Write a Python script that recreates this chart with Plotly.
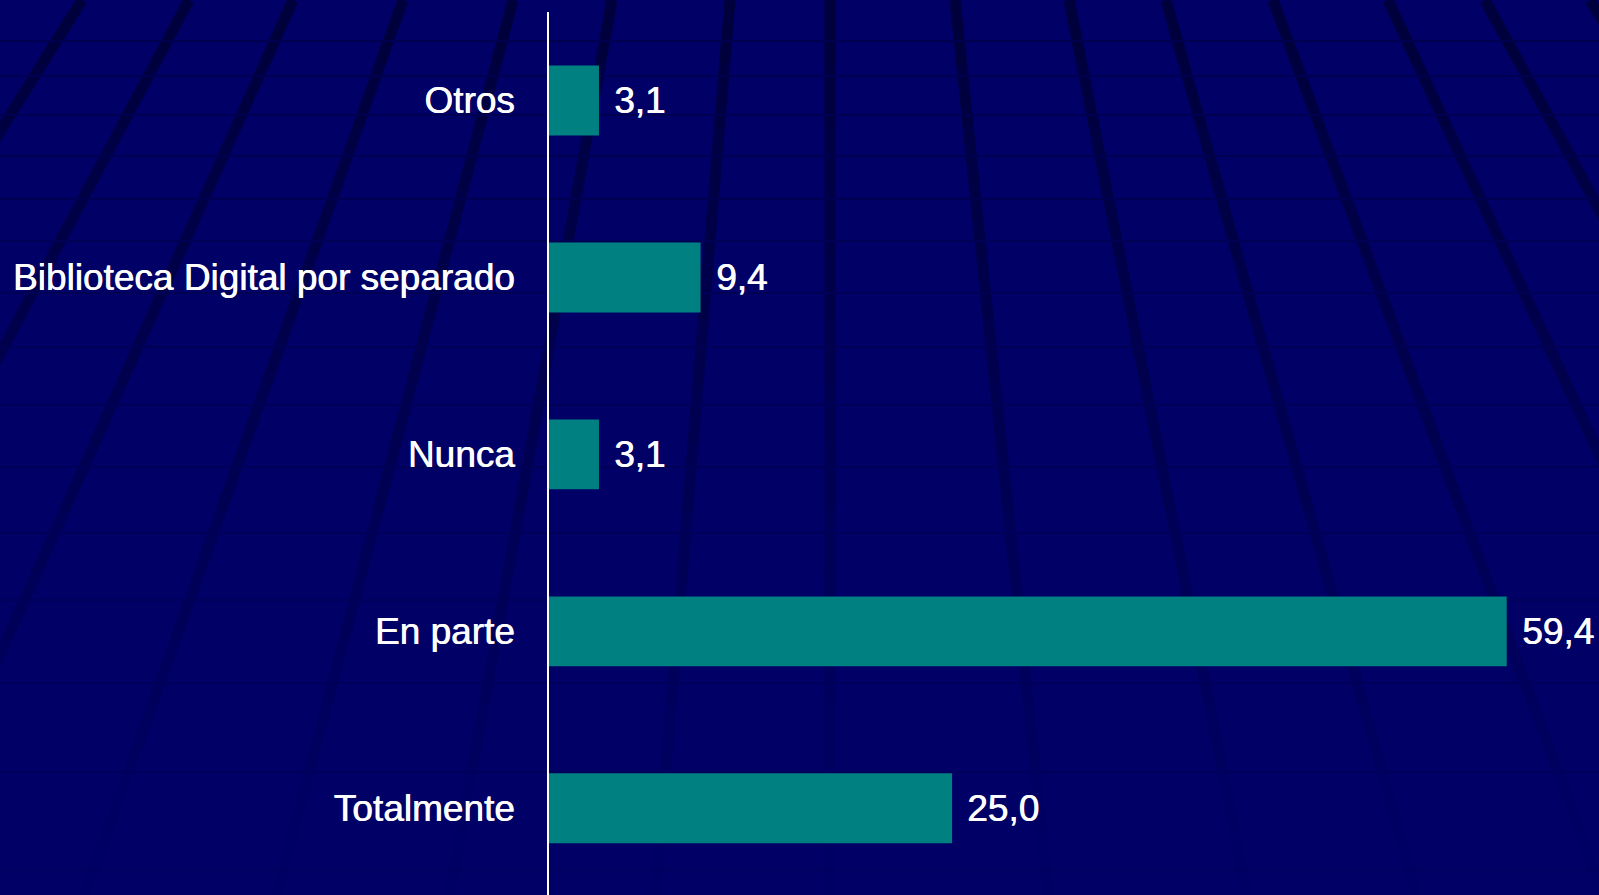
import plotly.graph_objects as go

# datos (de abajo hacia arriba)
categorias = ["Totalmente", "En parte", "Nunca", "Biblioteca Digital por separado", "Otros"]
valores = [25.0, 59.4, 3.1, 9.4, 3.1]

W, H = 1599, 895
ML, MR, MT, MB = 549, 2, 12, 0
PW, PH = W - ML - MR, H - MT - MB

FONDO = "#000066"
BARRA = "#008080"
FUENTE = dict(family="Liberation Sans, Arial", size=37, color="white",
              shadow="0.7px 0px 0px white")


def px2paper(x, y):
    return (x - ML) / PW, 1 - (y - MT) / PH


def mezcla(f):
    # f=1 -> linea oscura, f=0 -> color de fondo
    b0, b1 = 0x3c, 0x66
    return "#0000%02x" % int(b1 + (b0 - b1) * f)


# fondo tipo plantilla: meridianos que convergen arriba y paralelos finos
shapes = []
vx, vy = 830, -1200
tops = [82, 189, 293, 403, 513, 612, 730, 830, 955, 1069, 1166, 1273, 1388, 1485, 1590]
tramos = 14
for x0 in tops:
    for k in range(tramos):
        ya, yb = H * k / tramos, H * (k + 1) / tramos
        xa = vx + (x0 - vx) * (ya - vy) / (0 - vy)
        xb = vx + (x0 - vx) * (yb - vy) / (0 - vy)
        t = (ya + yb) / 2 / H
        f = max(0.0, (1 - t) ** 1.1)
        pa, pb = px2paper(xa, ya), px2paper(xb, yb)
        shapes.append(dict(type="line", xref="paper", yref="paper", layer="below",
                           x0=pa[0], y0=pa[1], x1=pb[0], y1=pb[1],
                           line=dict(color=mezcla(f), width=11)))

paralelos = [41, 76, 115, 156, 199, 241, 293, 347, 405, 467, 533, 600, 683, 772, 870]
for yy in paralelos:
    f = 0.5 * (1 - 0.6 * yy / H)
    pa, pb = px2paper(0, yy), px2paper(W, yy)
    shapes.append(dict(type="line", xref="paper", yref="paper", layer="below",
                       x0=pa[0], y0=pa[1], x1=pb[0], y1=pb[1],
                       line=dict(color=mezcla(f), width=2)))

fig = go.Figure(go.Bar(
    x=valores,
    y=categorias,
    orientation="h",
    marker=dict(color=BARRA, line=dict(width=0)),
    hoverinfo="x+y",
))

anotaciones = []
for c, v in zip(categorias, valores):
    anotaciones.append(dict(x=v, y=c, xref="x", yref="y", text=f"{v:.1f}".replace(".", ","),
                            showarrow=False, xanchor="left", yanchor="middle", xshift=13,
                            font=FUENTE))

fig.update_layout(
    width=W, height=H,
    margin=dict(l=ML, r=MR, t=MT, b=MB),
    paper_bgcolor=FONDO,
    plot_bgcolor="rgba(0,0,0,0)",
    bargap=0.605,
    showlegend=False,
    shapes=shapes,
    annotations=anotaciones,
    font=FUENTE,
)
fig.update_xaxes(range=[0, 65], showgrid=False, zeroline=False, showticklabels=False,
                 showline=False, fixedrange=True)
fig.update_yaxes(range=[-0.49, 4.5], showgrid=False, zeroline=False, showline=True,
                 linecolor="white", linewidth=2,
                 ticks="", ticklabelstandoff=25, tickfont=FUENTE, fixedrange=True)

fig.write_html("out.html", config={"displayModeBar": False},
               post_script="document.body.style.margin='0';")
